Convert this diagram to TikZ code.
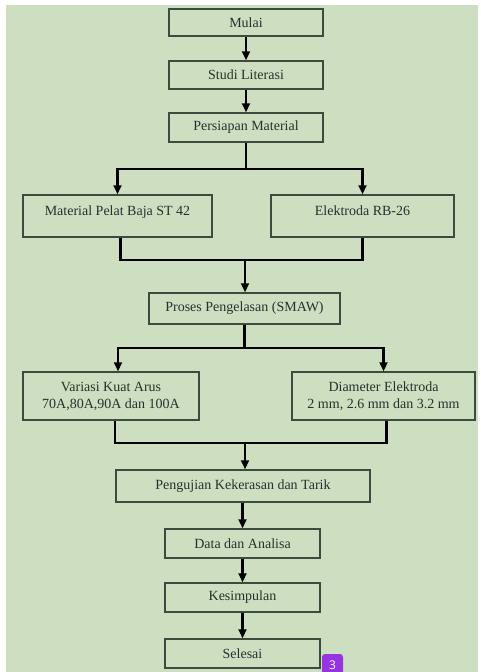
\documentclass[tikz,border=0pt]{standalone}
\usepackage{fontspec}
\setmainfont{Liberation Serif}
\newfontfamily\lencanafont{Open Sans}
\usetikzlibrary{arrows.meta,calc}

\definecolor{latar}{RGB}{205,222,193}
\definecolor{garis}{RGB}{62,74,64}
\definecolor{teks}{RGB}{40,48,46}
\definecolor{ungu}{RGB}{150,52,228}

\tikzset{
  kotak/.style={draw=garis, line width=1.5pt, fill=latar, text=teks,
    font=\fontsize{14}{17}\selectfont, align=center, inner sep=2pt},
  kotakatas/.style={kotak, text height=10pt, text depth=12pt},
  panah/.style={line width=2.2pt, -{Triangle[length=9pt,width=8pt]}},
  garisan/.style={line width=2.2pt},
}

\begin{document}
\begin{tikzpicture}[x=1pt,y=-1pt]
    % latar belakang
    \useasboundingbox (0,0) rectangle (480,672);
    \fill[latar] (6,5) rectangle (478,672);

    % kotak alur
    \node[kotak, minimum width=154pt, minimum height=27pt] (mulai) at (246,22.5) {Mulai};
    \node[kotak, minimum width=154pt, minimum height=28pt] (studi) at (246,75) {Studi Literasi};
    \node[kotak, minimum width=154pt, minimum height=29pt] (persiapan) at (246,127.5) {Persiapan Material};

    \node[kotakatas, minimum width=189pt, minimum height=42pt] (pelat) at (117.5,216) {Material Pelat Baja ST 42};
    \node[kotakatas, minimum width=183pt, minimum height=42pt] (elektroda) at (362.5,216) {Elektroda RB-26};

    \node[kotak, minimum width=191pt, minimum height=31pt] (proses) at (244.5,308.5) {Proses Pengelasan (SMAW)};

    \node[kotak, minimum width=176pt, minimum height=48pt] (variasi) at (111,396) {Variasi Kuat Arus\\70A,80A,90A dan 100A};
    \node[kotak, minimum width=183pt, minimum height=48pt] (diameter) at (383.5,396) {Diameter Elektroda\\2 mm, 2.6 mm dan 3.2 mm};

    \node[kotak, minimum width=254pt, minimum height=32pt] (pengujian) at (243,486) {Pengujian Kekerasan dan Tarik};
    \node[kotak, minimum width=155pt, minimum height=29pt] (data) at (242.5,543.5) {Data dan Analisa};
    \node[kotak, minimum width=155pt, minimum height=29pt] (kesimpulan) at (242.5,597.5) {Kesimpulan};
    \node[kotak, minimum width=155pt, minimum height=29pt] (selesai) at (242.5,653.5) {Selesai};

    % panah atas
    \draw[panah] (mulai) -- (studi);
    \draw[panah] (studi) -- (persiapan);

    % cabang pertama
    \draw[garisan] (persiapan.south) -- ++(0,26) coordinate (cabang1);
    \draw[panah] (cabang1) -| (pelat.north);
    \draw[panah] (cabang1) -| (elektroda.north);
    \coordinate (gabung1) at (245,260);
    \draw[garisan] ([xshift=3pt]pelat.south) |- (gabung1) -| (elektroda.south);
    \draw[panah] (gabung1) -- (gabung1 |- proses.north);

    % cabang kedua
    \draw[garisan] (proses.south) -- ++(0,23) coordinate (cabang2);
    \draw[panah] (cabang2) -| ([xshift=7pt]variasi.north);
    \draw[panah] (cabang2) -| (diameter.north);
    \coordinate (gabung2) at (245,443);
    \draw[garisan] ([xshift=4pt]variasi.south) |- (gabung2) -| ([xshift=3pt]diameter.south);
    \draw[panah] (gabung2) -- (gabung2 |- pengujian.north);

    % panah bawah
    \draw[panah] (data.north |- pengujian.south) -- (data.north);
    \draw[panah] (data) -- (kesimpulan);
    \draw[panah] (kesimpulan) -- (selesai);

    % lencana halaman
    \node[fill=ungu, rounded corners=3pt, minimum width=21pt, minimum height=22pt,
      text=white, font=\lencanafont\fontsize{12}{12}\selectfont] (lencana) at (332.5,665) {3};
\end{tikzpicture}
\end{document}
